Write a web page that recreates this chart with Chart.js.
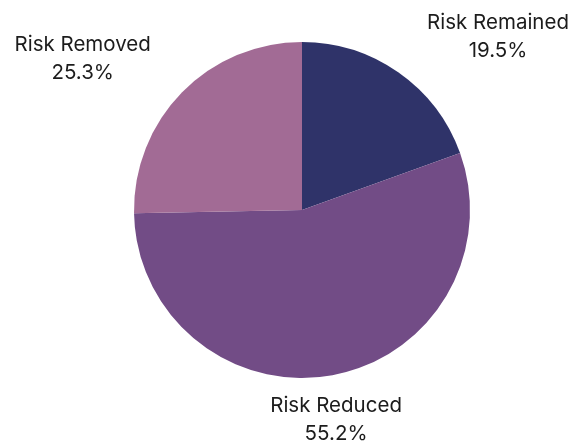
<!DOCTYPE html>
<html>
<head>
<meta charset="utf-8">
<script src="https://cdn.jsdelivr.net/npm/chart.js@4/dist/chart.umd.min.js"></script>
<style>
  html, body { margin: 0; padding: 0; background: #ffffff; }
  #wrap { position: relative; width: 577px; height: 443px; }
</style>
</head>
<body>
<div id="wrap"><canvas id="pie"></canvas></div>
<script>
// Share of risk by treatment outcome
const categories = ["Risk Remained", "Risk Reduced", "Risk Removed"];
const shares = [19.5, 55.2, 25.3];
const sliceColors = ["#2f3369", "#724c86", "#a26b95"];

// Outside labels: name + percentage, placed beyond each slice's outer edge
const outsideLabels = {
  id: "outsideLabels",
  afterDatasetsDraw(chart) {
    const ctx = chart.ctx;
    const meta = chart.getDatasetMeta(0);
    ctx.save();
    ctx.font = "20.5px Inter, 'Noto Sans', sans-serif";
    ctx.fillStyle = "#1c1c1c";
    ctx.textAlign = "center";
    ctx.textBaseline = "middle";
    meta.data.forEach((arc, i) => {
      const p = arc.getProps(["x", "y", "startAngle", "endAngle", "outerRadius"], true);
      const mid = (p.startAngle + p.endAngle) / 2;
      const dx = Math.cos(mid), dy = Math.sin(mid);
      const r = p.outerRadius + 20;
      let x = p.x + dx * r;
      let y = p.y + dy * r;
      const line1 = categories[i];
      const line2 = shares[i].toFixed(1) + "%";
      const w = Math.max(ctx.measureText(line1).width, ctx.measureText(line2).width);
      if (Math.abs(dx) > 0.3) x += Math.sign(dx) * (w / 2 + 17);
      y += Math.sign(dy) * 22 + 3;
      ctx.fillText(line1, x, y - 14);
      ctx.fillText(line2, x, y + 14);
    });
    ctx.restore();
  }
};

new Chart(document.getElementById("pie"), {
  type: "pie",
  data: {
    labels: categories,
    datasets: [{
      data: shares,
      backgroundColor: sliceColors,
      borderWidth: 0
    }]
  },
  options: {
    responsive: true,
    maintainAspectRatio: false,
    animation: false,
    layout: { padding: { top: 42, bottom: 65, left: 100, right: 73 } },
    plugins: {
      legend: { display: false },
      tooltip: { enabled: false }
    }
  },
  plugins: [outsideLabels]
});
</script>
</body>
</html>
